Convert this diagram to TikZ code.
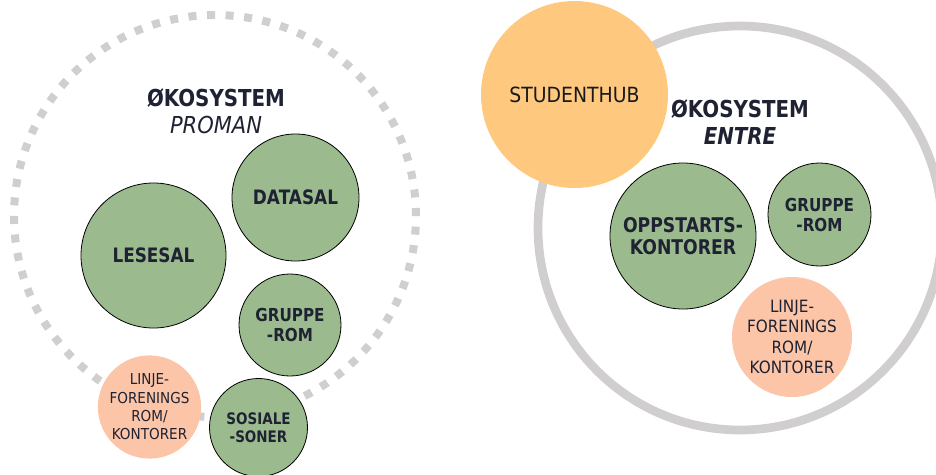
\documentclass[tikz,border=0pt]{standalone}
\usepackage{fontspec}
\setmainfont{DejaVu Sans}[UprightFeatures={FakeStretch=0.9},ItalicFeatures={FakeStretch=0.9},
	BoldFeatures={FakeStretch=0.85},BoldItalicFeatures={FakeStretch=0.85}]
\usepackage{tikz}
\definecolor{gronn}{RGB}{155,187,143}
\definecolor{fersken}{RGB}{252,197,168}
\definecolor{gul}{RGB}{254,201,127}
\definecolor{ringgraa}{RGB}{208,206,206}
\definecolor{tekst}{RGB}{30,34,50}

\begin{document}
\begin{tikzpicture}[x=0.75pt,y=-0.75pt,
	gronnrom/.style={circle,draw=black,line width=0.6pt,fill=gronn,inner sep=0pt,
		align=center,text=tekst,font=\bfseries},
	ferskenrom/.style={circle,fill=fersken,inner sep=0pt,align=center,text=tekst},
	tittel/.style={align=center,text=tekst,font=\fontsize{17.5}{20.5}\selectfont}]
	\useasboundingbox (0,0) rectangle (936,475);

	% ringene
	\draw[ringgraa,line width=6pt,dash pattern=on 6pt off 7.93pt] (215,216) circle[radius=150.75pt];
	\draw[ringgraa,line width=6.5pt] (740,228) circle[radius=151.5pt];

	% okosystem proman
	\node[tittel] at (216,111) (proman) {\textbf{ØKOSYSTEM}\\\textit{PROMAN}};
	\node[gronnrom,minimum size=108.75pt,font=\bfseries\fontsize{14.9}{18}\selectfont] at (153.5,255.5) (lesesal) {LESESAL};
	\node[gronnrom,minimum size=95.25pt,font=\bfseries\fontsize{14.9}{18}\selectfont] at (295.5,197.5) (datasal) {DATASAL};
	\node[gronnrom,minimum size=76.5pt,font=\bfseries\fontsize{13.4}{15}\selectfont] at (290,325) (gruppeP) {GRUPPE\\-ROM};
	\node[ferskenrom,minimum size=77.25pt,font=\fontsize{11.3}{13.7}\selectfont] at (149.5,407) (linjeP) {LINJE-\\FORENINGS\\ROM/\\KONTORER};
	\node[gronnrom,minimum size=73.5pt,font=\bfseries\fontsize{11.9}{13.5}\selectfont] at (258.5,427.5) (sosiale) {SOSIALE\\-SONER};

	% okosystem entre
	\node[circle,fill=gul,inner sep=0pt,minimum size=140.25pt,text=black!90,font=\fontsize{15.7}{18}\selectfont] at (574.5,94.5) (hub) {STUDENTHUB};
	\node[tittel] at (740,122) (entre) {\textbf{ØKOSYSTEM}\\\textbf{\textit{ENTRE}}};
	\node[gronnrom,minimum size=109.5pt,font=\bfseries\fontsize{15.2}{16.7}\selectfont] at (683,236) (oppstart) {OPPSTARTS-\\KONTORER};
	\node[gronnrom,minimum size=77.25pt,font=\bfseries\fontsize{13.4}{15}\selectfont] at (819.5,214.5) (gruppeE) {GRUPPE\\-ROM};
	\node[ferskenrom,minimum size=90pt,font=\fontsize{12.7}{15.4}\selectfont] at (792,337) (linjeE) {LINJE-\\FORENINGS\\ROM/\\KONTORER};
\end{tikzpicture}
\end{document}
